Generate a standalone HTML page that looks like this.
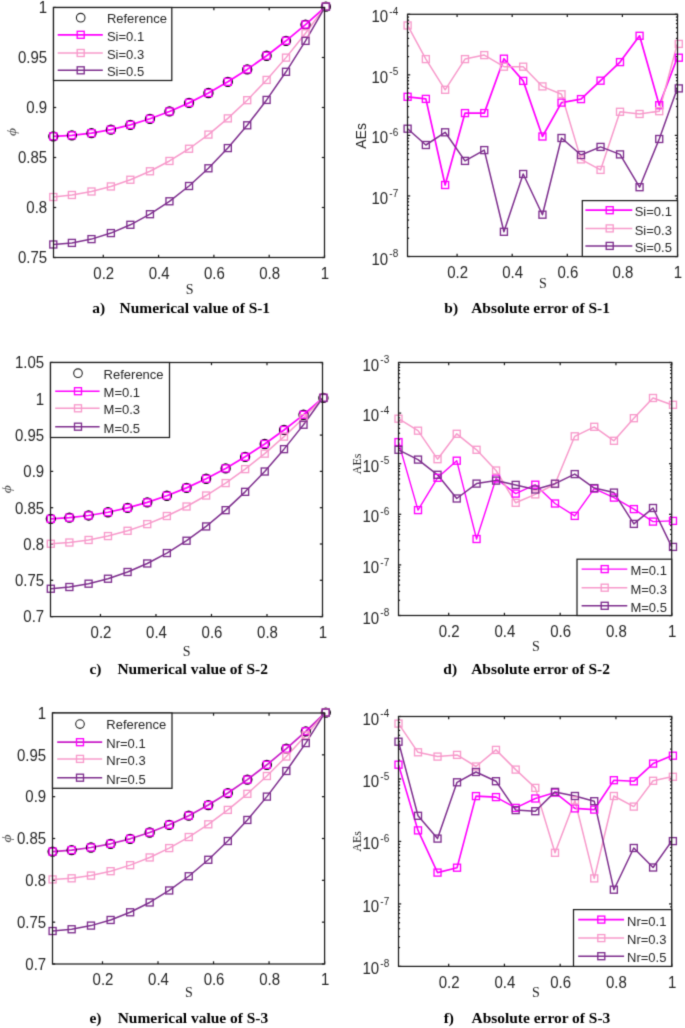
<!DOCTYPE html>
<html><head><meta charset="utf-8"><style>
html,body{margin:0;padding:0;background:#fff;}
body{width:685px;height:1028px;overflow:hidden;font-family:"Liberation Sans",sans-serif;}
svg{display:block;}
#w{width:685px;height:1028px;}

</style></head><body>
<div id="w"><svg width="685" height="1028" viewBox="0 0 685 1028">
<defs><filter id="bl" filterUnits="userSpaceOnUse" x="0" y="0" width="685" height="1028" color-interpolation-filters="sRGB"><feConvolveMatrix order="3" kernelMatrix="0.01917 0.10012 0.01917 0.10012 0.52283 0.10012 0.01917 0.10012 0.01917" edgeMode="duplicate" preserveAlpha="true"/></filter></defs><g filter="url(#bl)">
<rect width="685" height="1028" fill="#fff"/>
<g stroke="#1c1c1c" stroke-width="1.25" fill="none"><line x1="103.28" y1="257.5" x2="103.28" y2="254.8"/><line x1="103.28" y1="7.5" x2="103.28" y2="10.2"/><line x1="158.58" y1="257.5" x2="158.58" y2="254.8"/><line x1="158.58" y1="7.5" x2="158.58" y2="10.2"/><line x1="213.89" y1="257.5" x2="213.89" y2="254.8"/><line x1="213.89" y1="7.5" x2="213.89" y2="10.2"/><line x1="269.19" y1="257.5" x2="269.19" y2="254.8"/><line x1="269.19" y1="7.5" x2="269.19" y2="10.2"/><line x1="324.50" y1="257.5" x2="324.50" y2="254.8"/><line x1="324.50" y1="7.5" x2="324.50" y2="10.2"/><line x1="53.5" y1="257.50" x2="56.2" y2="257.50"/><line x1="324.5" y1="257.50" x2="321.8" y2="257.50"/><line x1="53.5" y1="207.50" x2="56.2" y2="207.50"/><line x1="324.5" y1="207.50" x2="321.8" y2="207.50"/><line x1="53.5" y1="157.50" x2="56.2" y2="157.50"/><line x1="324.5" y1="157.50" x2="321.8" y2="157.50"/><line x1="53.5" y1="107.50" x2="56.2" y2="107.50"/><line x1="324.5" y1="107.50" x2="321.8" y2="107.50"/><line x1="53.5" y1="57.50" x2="56.2" y2="57.50"/><line x1="324.5" y1="57.50" x2="321.8" y2="57.50"/><line x1="53.5" y1="7.50" x2="56.2" y2="7.50"/><line x1="324.5" y1="7.50" x2="321.8" y2="7.50"/></g>
<g font-family="Liberation Sans" font-size="15" fill="#262626"><text transform="translate(47.20,263.30) scale(1,1.05)" text-anchor="end">0.75</text><text transform="translate(47.20,213.30) scale(1,1.05)" text-anchor="end">0.8</text><text transform="translate(47.20,163.30) scale(1,1.05)" text-anchor="end">0.85</text><text transform="translate(47.20,113.30) scale(1,1.05)" text-anchor="end">0.9</text><text transform="translate(47.20,63.30) scale(1,1.05)" text-anchor="end">0.95</text><text transform="translate(47.20,13.30) scale(1,1.05)" text-anchor="end">1</text><text transform="translate(103.78,278.80) scale(1,1.05)" text-anchor="middle">0.2</text><text transform="translate(159.08,278.80) scale(1,1.05)" text-anchor="middle">0.4</text><text transform="translate(214.39,278.80) scale(1,1.05)" text-anchor="middle">0.6</text><text transform="translate(269.69,278.80) scale(1,1.05)" text-anchor="middle">0.8</text><text transform="translate(325.00,278.80) scale(1,1.05)" text-anchor="middle">1</text></g>
<polyline points="53.30,136.32 71.89,135.37 91.49,133.15 110.88,129.65 130.37,124.86 149.96,118.81 169.46,111.47 189.05,102.87 208.44,92.99 227.84,81.84 247.23,69.42 266.62,55.74 286.01,40.78 305.51,24.56 324.80,7.30" fill="none" stroke="#FF00FF" stroke-width="1.7" stroke-linejoin="round"/>
<polyline points="53.30,197.02 71.89,194.98 91.49,191.50 110.88,186.45 130.37,179.75 149.96,171.28 169.46,160.97 189.05,148.75 208.44,134.58 227.84,118.39 247.23,100.18 266.62,79.93 286.01,57.63 305.51,33.31 324.80,7.30" fill="none" stroke="#F79ACB" stroke-width="1.5" stroke-linejoin="round"/>
<polyline points="53.30,244.48 71.89,242.91 91.49,239.11 110.88,233.08 130.37,224.79 149.96,214.20 169.46,201.29 189.05,186.00 208.44,168.29 227.84,148.08 247.23,125.31 266.62,99.92 286.01,71.80 305.51,40.88 324.80,7.30" fill="none" stroke="#7E2F8E" stroke-width="1.5" stroke-linejoin="round"/>
<g fill="none" stroke="#000" stroke-width="1.5"><circle cx="53.30" cy="136.32" r="4.4"/><circle cx="71.89" cy="135.37" r="4.4"/><circle cx="91.49" cy="133.15" r="4.4"/><circle cx="110.88" cy="129.65" r="4.4"/><circle cx="130.37" cy="124.86" r="4.4"/><circle cx="149.96" cy="118.81" r="4.4"/><circle cx="169.46" cy="111.47" r="4.4"/><circle cx="189.05" cy="102.87" r="4.4"/><circle cx="208.44" cy="92.99" r="4.4"/><circle cx="227.84" cy="81.84" r="4.4"/><circle cx="247.23" cy="69.42" r="4.4"/><circle cx="266.62" cy="55.74" r="4.4"/><circle cx="286.01" cy="40.78" r="4.4"/><circle cx="305.51" cy="24.56" r="4.4"/><circle cx="325.90" cy="6.70" r="4.4"/></g>
<g fill="none" stroke="#FF00FF" stroke-width="1.35"><rect x="49.80" y="132.82" width="7" height="7"/><rect x="68.39" y="131.87" width="7" height="7"/><rect x="87.99" y="129.65" width="7" height="7"/><rect x="107.38" y="126.15" width="7" height="7"/><rect x="126.87" y="121.36" width="7" height="7"/><rect x="146.46" y="115.31" width="7" height="7"/><rect x="165.96" y="107.97" width="7" height="7"/><rect x="185.55" y="99.37" width="7" height="7"/><rect x="204.94" y="89.49" width="7" height="7"/><rect x="224.34" y="78.34" width="7" height="7"/><rect x="243.73" y="65.92" width="7" height="7"/><rect x="263.12" y="52.24" width="7" height="7"/><rect x="282.51" y="37.28" width="7" height="7"/><rect x="302.01" y="21.06" width="7" height="7"/><rect x="322.40" y="3.20" width="7" height="7"/></g>
<g fill="none" stroke="#F79ACB" stroke-width="1.35"><rect x="49.80" y="193.52" width="7" height="7"/><rect x="68.39" y="191.48" width="7" height="7"/><rect x="87.99" y="188.00" width="7" height="7"/><rect x="107.38" y="182.95" width="7" height="7"/><rect x="126.87" y="176.25" width="7" height="7"/><rect x="146.46" y="167.78" width="7" height="7"/><rect x="165.96" y="157.47" width="7" height="7"/><rect x="185.55" y="145.25" width="7" height="7"/><rect x="204.94" y="131.08" width="7" height="7"/><rect x="224.34" y="114.89" width="7" height="7"/><rect x="243.73" y="96.68" width="7" height="7"/><rect x="263.12" y="76.43" width="7" height="7"/><rect x="282.51" y="54.13" width="7" height="7"/><rect x="302.01" y="29.81" width="7" height="7"/><rect x="322.40" y="3.20" width="7" height="7"/></g>
<g fill="none" stroke="#7E2F8E" stroke-width="1.35"><rect x="49.80" y="240.98" width="7" height="7"/><rect x="68.39" y="239.41" width="7" height="7"/><rect x="87.99" y="235.61" width="7" height="7"/><rect x="107.38" y="229.58" width="7" height="7"/><rect x="126.87" y="221.29" width="7" height="7"/><rect x="146.46" y="210.70" width="7" height="7"/><rect x="165.96" y="197.79" width="7" height="7"/><rect x="185.55" y="182.50" width="7" height="7"/><rect x="204.94" y="164.79" width="7" height="7"/><rect x="224.34" y="144.58" width="7" height="7"/><rect x="243.73" y="121.81" width="7" height="7"/><rect x="263.12" y="96.42" width="7" height="7"/><rect x="282.51" y="68.30" width="7" height="7"/><rect x="302.01" y="37.38" width="7" height="7"/><rect x="322.40" y="3.20" width="7" height="7"/></g>
<rect x="53.5" y="7.5" width="271.00" height="250.00" fill="none" stroke="#1c1c1c" stroke-width="1.25"/>
<rect x="53.5" y="7.5" width="118.30" height="73.00" fill="#fff" stroke="#1c1c1c" stroke-width="1.25"/>
<circle cx="80.7" cy="17.7" r="4.3" fill="none" stroke="#222" stroke-width="1.1"/>
<text x="106.90" y="23.08" font-family="Liberation Sans" font-size="13" fill="#262626">Reference</text>
<line x1="57.7" y1="34.8" x2="102.8" y2="34.8" stroke="#FF00FF" stroke-width="1.75"/>
<rect x="77.2" y="31.299999999999997" width="7" height="7" fill="none" stroke="#FF00FF" stroke-width="1.35"/>
<text x="106.90" y="40.98" font-family="Liberation Sans" font-size="13" fill="#262626">Si=0.1</text>
<line x1="57.7" y1="53.0" x2="102.8" y2="53.0" stroke="#F79ACB" stroke-width="1.5"/>
<rect x="77.2" y="49.5" width="7" height="7" fill="none" stroke="#F79ACB" stroke-width="1.35"/>
<text x="106.90" y="59.18" font-family="Liberation Sans" font-size="13" fill="#262626">Si=0.3</text>
<line x1="57.7" y1="70.3" x2="102.8" y2="70.3" stroke="#7E2F8E" stroke-width="1.5"/>
<rect x="77.2" y="66.8" width="7" height="7" fill="none" stroke="#7E2F8E" stroke-width="1.35"/>
<text x="106.90" y="76.48" font-family="Liberation Sans" font-size="13" fill="#262626">Si=0.5</text>
<g stroke="#1c1c1c" stroke-width="1.25" fill="none"><line x1="100.46" y1="616.6" x2="100.46" y2="613.9"/><line x1="100.46" y1="362.5" x2="100.46" y2="365.2"/><line x1="155.97" y1="616.6" x2="155.97" y2="613.9"/><line x1="155.97" y1="362.5" x2="155.97" y2="365.2"/><line x1="211.48" y1="616.6" x2="211.48" y2="613.9"/><line x1="211.48" y1="362.5" x2="211.48" y2="365.2"/><line x1="266.99" y1="616.6" x2="266.99" y2="613.9"/><line x1="266.99" y1="362.5" x2="266.99" y2="365.2"/><line x1="322.50" y1="616.6" x2="322.50" y2="613.9"/><line x1="322.50" y1="362.5" x2="322.50" y2="365.2"/><line x1="50.5" y1="616.60" x2="53.2" y2="616.60"/><line x1="322.5" y1="616.60" x2="319.8" y2="616.60"/><line x1="50.5" y1="580.30" x2="53.2" y2="580.30"/><line x1="322.5" y1="580.30" x2="319.8" y2="580.30"/><line x1="50.5" y1="544.00" x2="53.2" y2="544.00"/><line x1="322.5" y1="544.00" x2="319.8" y2="544.00"/><line x1="50.5" y1="507.70" x2="53.2" y2="507.70"/><line x1="322.5" y1="507.70" x2="319.8" y2="507.70"/><line x1="50.5" y1="471.40" x2="53.2" y2="471.40"/><line x1="322.5" y1="471.40" x2="319.8" y2="471.40"/><line x1="50.5" y1="435.10" x2="53.2" y2="435.10"/><line x1="322.5" y1="435.10" x2="319.8" y2="435.10"/><line x1="50.5" y1="398.80" x2="53.2" y2="398.80"/><line x1="322.5" y1="398.80" x2="319.8" y2="398.80"/><line x1="50.5" y1="362.50" x2="53.2" y2="362.50"/><line x1="322.5" y1="362.50" x2="319.8" y2="362.50"/></g>
<g font-family="Liberation Sans" font-size="15" fill="#262626"><text transform="translate(44.20,622.40) scale(1,1.05)" text-anchor="end">0.7</text><text transform="translate(44.20,586.10) scale(1,1.05)" text-anchor="end">0.75</text><text transform="translate(44.20,549.80) scale(1,1.05)" text-anchor="end">0.8</text><text transform="translate(44.20,513.50) scale(1,1.05)" text-anchor="end">0.85</text><text transform="translate(44.20,477.20) scale(1,1.05)" text-anchor="end">0.9</text><text transform="translate(44.20,440.90) scale(1,1.05)" text-anchor="end">0.95</text><text transform="translate(44.20,404.60) scale(1,1.05)" text-anchor="end">1</text><text transform="translate(44.20,368.30) scale(1,1.05)" text-anchor="end">1.05</text><text transform="translate(100.96,637.90) scale(1,1.05)" text-anchor="middle">0.2</text><text transform="translate(156.47,637.90) scale(1,1.05)" text-anchor="middle">0.4</text><text transform="translate(211.98,637.90) scale(1,1.05)" text-anchor="middle">0.6</text><text transform="translate(267.49,637.90) scale(1,1.05)" text-anchor="middle">0.8</text><text transform="translate(323.00,637.90) scale(1,1.05)" text-anchor="middle">1</text></g>
<polyline points="50.80,518.87 69.39,517.67 88.59,515.48 107.98,512.25 127.57,507.91 147.26,502.42 166.86,495.74 186.55,487.86 206.14,478.75 225.64,468.40 245.13,456.82 264.72,444.00 284.01,429.97 303.51,414.76 322.30,398.50" fill="none" stroke="#FF00FF" stroke-width="1.7" stroke-linejoin="round"/>
<polyline points="50.80,543.75 69.39,542.52 88.59,539.97 107.98,536.07 127.57,530.79 147.26,524.11 166.86,516.02 186.55,506.50 206.14,495.52 225.64,483.07 245.13,469.12 264.72,453.65 284.01,436.65 303.51,418.10 322.30,398.50" fill="none" stroke="#F79ACB" stroke-width="1.5" stroke-linejoin="round"/>
<polyline points="50.80,588.75 69.39,587.02 88.59,583.70 107.98,578.73 127.57,572.00 147.26,563.47 166.86,553.06 186.55,540.73 206.14,526.44 225.64,510.15 245.13,491.85 264.72,471.51 284.01,449.14 303.51,424.74 322.30,398.50" fill="none" stroke="#7E2F8E" stroke-width="1.5" stroke-linejoin="round"/>
<g fill="none" stroke="#000" stroke-width="1.5"><circle cx="50.80" cy="518.87" r="4.4"/><circle cx="69.39" cy="517.67" r="4.4"/><circle cx="88.59" cy="515.48" r="4.4"/><circle cx="107.98" cy="512.25" r="4.4"/><circle cx="127.57" cy="507.91" r="4.4"/><circle cx="147.26" cy="502.42" r="4.4"/><circle cx="166.86" cy="495.74" r="4.4"/><circle cx="186.55" cy="487.86" r="4.4"/><circle cx="206.14" cy="478.75" r="4.4"/><circle cx="225.64" cy="468.40" r="4.4"/><circle cx="245.13" cy="456.82" r="4.4"/><circle cx="264.72" cy="444.00" r="4.4"/><circle cx="284.01" cy="429.97" r="4.4"/><circle cx="303.51" cy="414.76" r="4.4"/><circle cx="323.40" cy="397.90" r="4.4"/></g>
<g fill="none" stroke="#FF00FF" stroke-width="1.35"><rect x="47.30" y="515.37" width="7" height="7"/><rect x="65.89" y="514.17" width="7" height="7"/><rect x="85.09" y="511.98" width="7" height="7"/><rect x="104.48" y="508.75" width="7" height="7"/><rect x="124.07" y="504.41" width="7" height="7"/><rect x="143.76" y="498.92" width="7" height="7"/><rect x="163.36" y="492.24" width="7" height="7"/><rect x="183.05" y="484.36" width="7" height="7"/><rect x="202.64" y="475.25" width="7" height="7"/><rect x="222.14" y="464.90" width="7" height="7"/><rect x="241.63" y="453.32" width="7" height="7"/><rect x="261.22" y="440.50" width="7" height="7"/><rect x="280.51" y="426.47" width="7" height="7"/><rect x="300.01" y="411.26" width="7" height="7"/><rect x="319.90" y="394.40" width="7" height="7"/></g>
<g fill="none" stroke="#F79ACB" stroke-width="1.35"><rect x="47.30" y="540.25" width="7" height="7"/><rect x="65.89" y="539.02" width="7" height="7"/><rect x="85.09" y="536.47" width="7" height="7"/><rect x="104.48" y="532.57" width="7" height="7"/><rect x="124.07" y="527.29" width="7" height="7"/><rect x="143.76" y="520.61" width="7" height="7"/><rect x="163.36" y="512.52" width="7" height="7"/><rect x="183.05" y="503.00" width="7" height="7"/><rect x="202.64" y="492.02" width="7" height="7"/><rect x="222.14" y="479.57" width="7" height="7"/><rect x="241.63" y="465.62" width="7" height="7"/><rect x="261.22" y="450.15" width="7" height="7"/><rect x="280.51" y="433.15" width="7" height="7"/><rect x="300.01" y="414.60" width="7" height="7"/><rect x="319.90" y="394.40" width="7" height="7"/></g>
<g fill="none" stroke="#7E2F8E" stroke-width="1.35"><rect x="47.30" y="585.25" width="7" height="7"/><rect x="65.89" y="583.52" width="7" height="7"/><rect x="85.09" y="580.20" width="7" height="7"/><rect x="104.48" y="575.23" width="7" height="7"/><rect x="124.07" y="568.50" width="7" height="7"/><rect x="143.76" y="559.97" width="7" height="7"/><rect x="163.36" y="549.56" width="7" height="7"/><rect x="183.05" y="537.23" width="7" height="7"/><rect x="202.64" y="522.94" width="7" height="7"/><rect x="222.14" y="506.65" width="7" height="7"/><rect x="241.63" y="488.35" width="7" height="7"/><rect x="261.22" y="468.01" width="7" height="7"/><rect x="280.51" y="445.64" width="7" height="7"/><rect x="300.01" y="421.24" width="7" height="7"/><rect x="319.90" y="394.40" width="7" height="7"/></g>
<rect x="50.5" y="362.5" width="272.00" height="254.10" fill="none" stroke="#1c1c1c" stroke-width="1.25"/>
<rect x="50.5" y="362.5" width="119.00" height="75.00" fill="#fff" stroke="#1c1c1c" stroke-width="1.25"/>
<circle cx="78.0" cy="373.2" r="4.3" fill="none" stroke="#222" stroke-width="1.1"/>
<text x="103.60" y="378.58" font-family="Liberation Sans" font-size="13" fill="#262626">Reference</text>
<line x1="55.2" y1="391.2" x2="99.6" y2="391.2" stroke="#FF00FF" stroke-width="1.45"/>
<rect x="74.5" y="387.7" width="7" height="7" fill="none" stroke="#FF00FF" stroke-width="1.35"/>
<text x="103.60" y="397.38" font-family="Liberation Sans" font-size="13" fill="#262626">M=0.1</text>
<line x1="55.2" y1="408.3" x2="99.6" y2="408.3" stroke="#F79ACB" stroke-width="1.5"/>
<rect x="74.5" y="404.8" width="7" height="7" fill="none" stroke="#F79ACB" stroke-width="1.35"/>
<text x="103.60" y="414.48" font-family="Liberation Sans" font-size="13" fill="#262626">M=0.3</text>
<line x1="55.2" y1="426.7" x2="99.6" y2="426.7" stroke="#7E2F8E" stroke-width="1.5"/>
<rect x="74.5" y="423.2" width="7" height="7" fill="none" stroke="#7E2F8E" stroke-width="1.35"/>
<text x="103.60" y="432.88" font-family="Liberation Sans" font-size="13" fill="#262626">M=0.5</text>
<g stroke="#1c1c1c" stroke-width="1.25" fill="none"><line x1="102.48" y1="964.0" x2="102.48" y2="961.3"/><line x1="102.48" y1="713.0" x2="102.48" y2="715.7"/><line x1="158.01" y1="964.0" x2="158.01" y2="961.3"/><line x1="158.01" y1="713.0" x2="158.01" y2="715.7"/><line x1="213.54" y1="964.0" x2="213.54" y2="961.3"/><line x1="213.54" y1="713.0" x2="213.54" y2="715.7"/><line x1="269.07" y1="964.0" x2="269.07" y2="961.3"/><line x1="269.07" y1="713.0" x2="269.07" y2="715.7"/><line x1="324.60" y1="964.0" x2="324.60" y2="961.3"/><line x1="324.60" y1="713.0" x2="324.60" y2="715.7"/><line x1="52.5" y1="964.00" x2="55.2" y2="964.00"/><line x1="324.6" y1="964.00" x2="321.90000000000003" y2="964.00"/><line x1="52.5" y1="922.17" x2="55.2" y2="922.17"/><line x1="324.6" y1="922.17" x2="321.90000000000003" y2="922.17"/><line x1="52.5" y1="880.33" x2="55.2" y2="880.33"/><line x1="324.6" y1="880.33" x2="321.90000000000003" y2="880.33"/><line x1="52.5" y1="838.50" x2="55.2" y2="838.50"/><line x1="324.6" y1="838.50" x2="321.90000000000003" y2="838.50"/><line x1="52.5" y1="796.67" x2="55.2" y2="796.67"/><line x1="324.6" y1="796.67" x2="321.90000000000003" y2="796.67"/><line x1="52.5" y1="754.83" x2="55.2" y2="754.83"/><line x1="324.6" y1="754.83" x2="321.90000000000003" y2="754.83"/><line x1="52.5" y1="713.00" x2="55.2" y2="713.00"/><line x1="324.6" y1="713.00" x2="321.90000000000003" y2="713.00"/></g>
<g font-family="Liberation Sans" font-size="15" fill="#262626"><text transform="translate(46.20,969.80) scale(1,1.05)" text-anchor="end">0.7</text><text transform="translate(46.20,927.97) scale(1,1.05)" text-anchor="end">0.75</text><text transform="translate(46.20,886.13) scale(1,1.05)" text-anchor="end">0.8</text><text transform="translate(46.20,844.30) scale(1,1.05)" text-anchor="end">0.85</text><text transform="translate(46.20,802.47) scale(1,1.05)" text-anchor="end">0.9</text><text transform="translate(46.20,760.63) scale(1,1.05)" text-anchor="end">0.95</text><text transform="translate(46.20,718.80) scale(1,1.05)" text-anchor="end">1</text><text transform="translate(102.98,985.30) scale(1,1.05)" text-anchor="middle">0.2</text><text transform="translate(158.51,985.30) scale(1,1.05)" text-anchor="middle">0.4</text><text transform="translate(214.04,985.30) scale(1,1.05)" text-anchor="middle">0.6</text><text transform="translate(269.57,985.30) scale(1,1.05)" text-anchor="middle">0.8</text><text transform="translate(325.10,985.30) scale(1,1.05)" text-anchor="middle">1</text></g>
<polyline points="52.60,851.62 71.64,850.08 90.97,847.51 110.61,843.79 130.14,838.81 149.68,832.50 169.21,824.79 188.75,815.66 208.29,805.08 227.82,793.06 247.36,779.62 266.89,764.80 286.33,748.68 305.76,731.33 324.70,713.20" fill="none" stroke="#C81EC8" stroke-width="1.7" stroke-linejoin="round"/>
<polyline points="52.60,879.43 71.64,878.31 90.97,875.57 110.61,871.19 130.14,865.15 149.68,857.45 169.21,848.08 188.75,837.03 208.29,824.31 227.82,809.90 247.36,793.80 266.89,776.01 286.33,756.54 305.76,735.39 324.70,713.20" fill="none" stroke="#F79ACB" stroke-width="1.5" stroke-linejoin="round"/>
<polyline points="52.60,931.02 71.64,929.26 90.97,925.60 110.61,919.97 130.14,912.28 149.68,902.47 169.21,890.47 188.75,876.25 208.29,859.78 227.82,841.02 247.36,819.96 266.89,796.61 286.33,770.98 305.76,743.08 324.70,713.20" fill="none" stroke="#7E2F8E" stroke-width="1.5" stroke-linejoin="round"/>
<g fill="none" stroke="#000" stroke-width="1.5"><circle cx="52.60" cy="851.62" r="4.4"/><circle cx="71.64" cy="850.08" r="4.4"/><circle cx="90.97" cy="847.51" r="4.4"/><circle cx="110.61" cy="843.79" r="4.4"/><circle cx="130.14" cy="838.81" r="4.4"/><circle cx="149.68" cy="832.50" r="4.4"/><circle cx="169.21" cy="824.79" r="4.4"/><circle cx="188.75" cy="815.66" r="4.4"/><circle cx="208.29" cy="805.08" r="4.4"/><circle cx="227.82" cy="793.06" r="4.4"/><circle cx="247.36" cy="779.62" r="4.4"/><circle cx="266.89" cy="764.80" r="4.4"/><circle cx="286.33" cy="748.68" r="4.4"/><circle cx="305.76" cy="731.33" r="4.4"/><circle cx="325.80" cy="712.60" r="4.4"/></g>
<g fill="none" stroke="#FF00FF" stroke-width="1.35"><rect x="49.10" y="848.12" width="7" height="7"/><rect x="68.14" y="846.58" width="7" height="7"/><rect x="87.47" y="844.01" width="7" height="7"/><rect x="107.11" y="840.29" width="7" height="7"/><rect x="126.64" y="835.31" width="7" height="7"/><rect x="146.18" y="829.00" width="7" height="7"/><rect x="165.71" y="821.29" width="7" height="7"/><rect x="185.25" y="812.16" width="7" height="7"/><rect x="204.79" y="801.58" width="7" height="7"/><rect x="224.32" y="789.56" width="7" height="7"/><rect x="243.86" y="776.12" width="7" height="7"/><rect x="263.39" y="761.30" width="7" height="7"/><rect x="282.83" y="745.18" width="7" height="7"/><rect x="302.26" y="727.83" width="7" height="7"/><rect x="322.30" y="709.10" width="7" height="7"/></g>
<g fill="none" stroke="#F79ACB" stroke-width="1.35"><rect x="49.10" y="875.93" width="7" height="7"/><rect x="68.14" y="874.81" width="7" height="7"/><rect x="87.47" y="872.07" width="7" height="7"/><rect x="107.11" y="867.69" width="7" height="7"/><rect x="126.64" y="861.65" width="7" height="7"/><rect x="146.18" y="853.95" width="7" height="7"/><rect x="165.71" y="844.58" width="7" height="7"/><rect x="185.25" y="833.53" width="7" height="7"/><rect x="204.79" y="820.81" width="7" height="7"/><rect x="224.32" y="806.40" width="7" height="7"/><rect x="243.86" y="790.30" width="7" height="7"/><rect x="263.39" y="772.51" width="7" height="7"/><rect x="282.83" y="753.04" width="7" height="7"/><rect x="302.26" y="731.89" width="7" height="7"/><rect x="322.30" y="709.10" width="7" height="7"/></g>
<g fill="none" stroke="#7E2F8E" stroke-width="1.35"><rect x="49.10" y="927.52" width="7" height="7"/><rect x="68.14" y="925.76" width="7" height="7"/><rect x="87.47" y="922.10" width="7" height="7"/><rect x="107.11" y="916.47" width="7" height="7"/><rect x="126.64" y="908.78" width="7" height="7"/><rect x="146.18" y="898.97" width="7" height="7"/><rect x="165.71" y="886.97" width="7" height="7"/><rect x="185.25" y="872.75" width="7" height="7"/><rect x="204.79" y="856.28" width="7" height="7"/><rect x="224.32" y="837.52" width="7" height="7"/><rect x="243.86" y="816.46" width="7" height="7"/><rect x="263.39" y="793.11" width="7" height="7"/><rect x="282.83" y="767.48" width="7" height="7"/><rect x="302.26" y="739.58" width="7" height="7"/><rect x="322.30" y="709.10" width="7" height="7"/></g>
<rect x="52.5" y="713.0" width="272.10" height="251.00" fill="none" stroke="#1c1c1c" stroke-width="1.25"/>
<rect x="52.5" y="713.0" width="119.50" height="75.30" fill="#fff" stroke="#1c1c1c" stroke-width="1.25"/>
<circle cx="80.0" cy="724.1" r="4.3" fill="none" stroke="#222" stroke-width="1.1"/>
<text x="106.30" y="729.48" font-family="Liberation Sans" font-size="13" fill="#262626">Reference</text>
<line x1="57.2" y1="742.2" x2="102.2" y2="742.2" stroke="#C81EC8" stroke-width="1.75"/>
<rect x="76.5" y="738.7" width="7" height="7" fill="none" stroke="#FF00FF" stroke-width="1.35"/>
<text x="106.30" y="748.38" font-family="Liberation Sans" font-size="13" fill="#262626">Nr=0.1</text>
<line x1="57.2" y1="758.9" x2="102.2" y2="758.9" stroke="#F79ACB" stroke-width="1.5"/>
<rect x="76.5" y="755.4" width="7" height="7" fill="none" stroke="#F79ACB" stroke-width="1.35"/>
<text x="106.30" y="765.08" font-family="Liberation Sans" font-size="13" fill="#262626">Nr=0.3</text>
<line x1="57.2" y1="777.7" x2="102.2" y2="777.7" stroke="#7E2F8E" stroke-width="1.5"/>
<rect x="76.5" y="774.2" width="7" height="7" fill="none" stroke="#7E2F8E" stroke-width="1.35"/>
<text x="106.30" y="783.88" font-family="Liberation Sans" font-size="13" fill="#262626">Nr=0.5</text>
<g stroke="#1c1c1c" stroke-width="1.25" fill="none"><line x1="457.09" y1="256.5" x2="457.09" y2="253.8"/><line x1="457.09" y1="14.3" x2="457.09" y2="17.0"/><line x1="512.19" y1="256.5" x2="512.19" y2="253.8"/><line x1="512.19" y1="14.3" x2="512.19" y2="17.0"/><line x1="567.30" y1="256.5" x2="567.30" y2="253.8"/><line x1="567.30" y1="14.3" x2="567.30" y2="17.0"/><line x1="622.40" y1="256.5" x2="622.40" y2="253.8"/><line x1="622.40" y1="14.3" x2="622.40" y2="17.0"/><line x1="677.50" y1="256.5" x2="677.50" y2="253.8"/><line x1="677.50" y1="14.3" x2="677.50" y2="17.0"/><line x1="407.5" y1="256.50" x2="410.2" y2="256.50"/><line x1="677.5" y1="256.50" x2="674.8" y2="256.50"/><line x1="407.5" y1="238.27" x2="409.1" y2="238.27"/><line x1="677.5" y1="238.27" x2="675.9" y2="238.27"/><line x1="407.5" y1="227.61" x2="409.1" y2="227.61"/><line x1="677.5" y1="227.61" x2="675.9" y2="227.61"/><line x1="407.5" y1="220.05" x2="409.1" y2="220.05"/><line x1="677.5" y1="220.05" x2="675.9" y2="220.05"/><line x1="407.5" y1="214.18" x2="409.1" y2="214.18"/><line x1="677.5" y1="214.18" x2="675.9" y2="214.18"/><line x1="407.5" y1="209.38" x2="409.1" y2="209.38"/><line x1="677.5" y1="209.38" x2="675.9" y2="209.38"/><line x1="407.5" y1="205.33" x2="409.1" y2="205.33"/><line x1="677.5" y1="205.33" x2="675.9" y2="205.33"/><line x1="407.5" y1="201.82" x2="409.1" y2="201.82"/><line x1="677.5" y1="201.82" x2="675.9" y2="201.82"/><line x1="407.5" y1="198.72" x2="409.1" y2="198.72"/><line x1="677.5" y1="198.72" x2="675.9" y2="198.72"/><line x1="407.5" y1="195.95" x2="410.2" y2="195.95"/><line x1="677.5" y1="195.95" x2="674.8" y2="195.95"/><line x1="407.5" y1="177.72" x2="409.1" y2="177.72"/><line x1="677.5" y1="177.72" x2="675.9" y2="177.72"/><line x1="407.5" y1="167.06" x2="409.1" y2="167.06"/><line x1="677.5" y1="167.06" x2="675.9" y2="167.06"/><line x1="407.5" y1="159.50" x2="409.1" y2="159.50"/><line x1="677.5" y1="159.50" x2="675.9" y2="159.50"/><line x1="407.5" y1="153.63" x2="409.1" y2="153.63"/><line x1="677.5" y1="153.63" x2="675.9" y2="153.63"/><line x1="407.5" y1="148.83" x2="409.1" y2="148.83"/><line x1="677.5" y1="148.83" x2="675.9" y2="148.83"/><line x1="407.5" y1="144.78" x2="409.1" y2="144.78"/><line x1="677.5" y1="144.78" x2="675.9" y2="144.78"/><line x1="407.5" y1="141.27" x2="409.1" y2="141.27"/><line x1="677.5" y1="141.27" x2="675.9" y2="141.27"/><line x1="407.5" y1="138.17" x2="409.1" y2="138.17"/><line x1="677.5" y1="138.17" x2="675.9" y2="138.17"/><line x1="407.5" y1="135.40" x2="410.2" y2="135.40"/><line x1="677.5" y1="135.40" x2="674.8" y2="135.40"/><line x1="407.5" y1="117.17" x2="409.1" y2="117.17"/><line x1="677.5" y1="117.17" x2="675.9" y2="117.17"/><line x1="407.5" y1="106.51" x2="409.1" y2="106.51"/><line x1="677.5" y1="106.51" x2="675.9" y2="106.51"/><line x1="407.5" y1="98.95" x2="409.1" y2="98.95"/><line x1="677.5" y1="98.95" x2="675.9" y2="98.95"/><line x1="407.5" y1="93.08" x2="409.1" y2="93.08"/><line x1="677.5" y1="93.08" x2="675.9" y2="93.08"/><line x1="407.5" y1="88.28" x2="409.1" y2="88.28"/><line x1="677.5" y1="88.28" x2="675.9" y2="88.28"/><line x1="407.5" y1="84.23" x2="409.1" y2="84.23"/><line x1="677.5" y1="84.23" x2="675.9" y2="84.23"/><line x1="407.5" y1="80.72" x2="409.1" y2="80.72"/><line x1="677.5" y1="80.72" x2="675.9" y2="80.72"/><line x1="407.5" y1="77.62" x2="409.1" y2="77.62"/><line x1="677.5" y1="77.62" x2="675.9" y2="77.62"/><line x1="407.5" y1="74.85" x2="410.2" y2="74.85"/><line x1="677.5" y1="74.85" x2="674.8" y2="74.85"/><line x1="407.5" y1="56.62" x2="409.1" y2="56.62"/><line x1="677.5" y1="56.62" x2="675.9" y2="56.62"/><line x1="407.5" y1="45.96" x2="409.1" y2="45.96"/><line x1="677.5" y1="45.96" x2="675.9" y2="45.96"/><line x1="407.5" y1="38.40" x2="409.1" y2="38.40"/><line x1="677.5" y1="38.40" x2="675.9" y2="38.40"/><line x1="407.5" y1="32.53" x2="409.1" y2="32.53"/><line x1="677.5" y1="32.53" x2="675.9" y2="32.53"/><line x1="407.5" y1="27.73" x2="409.1" y2="27.73"/><line x1="677.5" y1="27.73" x2="675.9" y2="27.73"/><line x1="407.5" y1="23.68" x2="409.1" y2="23.68"/><line x1="677.5" y1="23.68" x2="675.9" y2="23.68"/><line x1="407.5" y1="20.17" x2="409.1" y2="20.17"/><line x1="677.5" y1="20.17" x2="675.9" y2="20.17"/><line x1="407.5" y1="17.07" x2="409.1" y2="17.07"/><line x1="677.5" y1="17.07" x2="675.9" y2="17.07"/><line x1="407.5" y1="14.30" x2="410.2" y2="14.30"/><line x1="677.5" y1="14.30" x2="674.8" y2="14.30"/></g>
<g font-family="Liberation Sans" font-size="15" fill="#262626"><text transform="translate(388.20,264.50) scale(1,1.05)" text-anchor="end">10</text><text x="389.30" y="257.10" font-size="10">-8</text><text transform="translate(388.20,203.95) scale(1,1.05)" text-anchor="end">10</text><text x="389.30" y="196.55" font-size="10">-7</text><text transform="translate(388.20,143.40) scale(1,1.05)" text-anchor="end">10</text><text x="389.30" y="136.00" font-size="10">-6</text><text transform="translate(388.20,82.85) scale(1,1.05)" text-anchor="end">10</text><text x="389.30" y="75.45" font-size="10">-5</text><text transform="translate(388.20,22.30) scale(1,1.05)" text-anchor="end">10</text><text x="389.30" y="14.90" font-size="10">-4</text><text transform="translate(457.59,277.80) scale(1,1.05)" text-anchor="middle">0.2</text><text transform="translate(512.69,277.80) scale(1,1.05)" text-anchor="middle">0.4</text><text transform="translate(567.80,277.80) scale(1,1.05)" text-anchor="middle">0.6</text><text transform="translate(622.90,277.80) scale(1,1.05)" text-anchor="middle">0.8</text><text transform="translate(678.00,277.80) scale(1,1.05)" text-anchor="middle">1</text></g>
<polyline points="407.60,96.80 425.86,98.90 445.13,185.00 464.99,113.10 484.26,113.10 503.92,58.70 523.19,80.90 542.45,136.50 561.51,102.60 580.98,99.10 600.54,80.70 620.01,62.10 639.57,35.80 659.24,105.20 677.30,57.70" fill="none" stroke="#FF00FF" stroke-width="1.7" stroke-linejoin="round"/>
<polyline points="407.60,25.45 425.86,59.10 445.13,89.80 464.99,59.10 484.26,55.10 503.92,66.70 523.19,66.70 542.45,86.40 561.51,94.30 580.98,159.40 600.54,169.90 620.01,111.80 639.57,114.00 659.24,111.20 677.30,43.90" fill="none" stroke="#F79ACB" stroke-width="1.5" stroke-linejoin="round"/>
<polyline points="407.60,128.70 425.86,145.00 445.13,132.30 464.99,160.90 484.26,150.10 503.92,231.80 523.19,174.00 542.45,214.70 561.51,138.00 580.98,155.00 600.54,146.90 620.01,154.40 639.57,187.20 659.24,139.00 677.30,88.40" fill="none" stroke="#7E2F8E" stroke-width="1.5" stroke-linejoin="round"/>
<g fill="none" stroke="#FF00FF" stroke-width="1.35"><rect x="404.10" y="93.30" width="7" height="7"/><rect x="422.36" y="95.40" width="7" height="7"/><rect x="441.63" y="181.50" width="7" height="7"/><rect x="461.49" y="109.60" width="7" height="7"/><rect x="480.76" y="109.60" width="7" height="7"/><rect x="500.42" y="55.20" width="7" height="7"/><rect x="519.69" y="77.40" width="7" height="7"/><rect x="538.95" y="133.00" width="7" height="7"/><rect x="558.01" y="99.10" width="7" height="7"/><rect x="577.48" y="95.60" width="7" height="7"/><rect x="597.04" y="77.20" width="7" height="7"/><rect x="616.51" y="58.60" width="7" height="7"/><rect x="636.07" y="32.30" width="7" height="7"/><rect x="655.74" y="101.70" width="7" height="7"/><rect x="675.30" y="54.20" width="7" height="7"/></g>
<g fill="none" stroke="#F79ACB" stroke-width="1.35"><rect x="404.10" y="21.95" width="7" height="7"/><rect x="422.36" y="55.60" width="7" height="7"/><rect x="441.63" y="86.30" width="7" height="7"/><rect x="461.49" y="55.60" width="7" height="7"/><rect x="480.76" y="51.60" width="7" height="7"/><rect x="500.42" y="63.20" width="7" height="7"/><rect x="519.69" y="63.20" width="7" height="7"/><rect x="538.95" y="82.90" width="7" height="7"/><rect x="558.01" y="90.80" width="7" height="7"/><rect x="577.48" y="155.90" width="7" height="7"/><rect x="597.04" y="166.40" width="7" height="7"/><rect x="616.51" y="108.30" width="7" height="7"/><rect x="636.07" y="110.50" width="7" height="7"/><rect x="655.74" y="107.70" width="7" height="7"/><rect x="675.30" y="40.40" width="7" height="7"/></g>
<g fill="none" stroke="#7E2F8E" stroke-width="1.35"><rect x="404.10" y="125.20" width="7" height="7"/><rect x="422.36" y="141.50" width="7" height="7"/><rect x="441.63" y="128.80" width="7" height="7"/><rect x="461.49" y="157.40" width="7" height="7"/><rect x="480.76" y="146.60" width="7" height="7"/><rect x="500.42" y="228.30" width="7" height="7"/><rect x="519.69" y="170.50" width="7" height="7"/><rect x="538.95" y="211.20" width="7" height="7"/><rect x="558.01" y="134.50" width="7" height="7"/><rect x="577.48" y="151.50" width="7" height="7"/><rect x="597.04" y="143.40" width="7" height="7"/><rect x="616.51" y="150.90" width="7" height="7"/><rect x="636.07" y="183.70" width="7" height="7"/><rect x="655.74" y="135.50" width="7" height="7"/><rect x="675.30" y="84.90" width="7" height="7"/></g>
<rect x="407.5" y="14.3" width="270.00" height="242.20" fill="none" stroke="#1c1c1c" stroke-width="1.25"/>
<rect x="582.3" y="200.6" width="95.20" height="55.90" fill="#fff" stroke="#1c1c1c" stroke-width="1.25"/>
<line x1="585.4" y1="210.2" x2="632.3" y2="210.2" stroke="#FF00FF" stroke-width="1.75"/>
<rect x="606.2" y="206.7" width="7" height="7" fill="none" stroke="#FF00FF" stroke-width="1.35"/>
<text x="634.70" y="216.38" font-family="Liberation Sans" font-size="13" fill="#262626">Si=0.1</text>
<line x1="585.4" y1="228.4" x2="632.3" y2="228.4" stroke="#F79ACB" stroke-width="1.5"/>
<rect x="606.2" y="224.9" width="7" height="7" fill="none" stroke="#F79ACB" stroke-width="1.35"/>
<text x="634.70" y="234.58" font-family="Liberation Sans" font-size="13" fill="#262626">Si=0.3</text>
<line x1="585.4" y1="245.9" x2="632.3" y2="245.9" stroke="#7E2F8E" stroke-width="1.5"/>
<rect x="606.2" y="242.4" width="7" height="7" fill="none" stroke="#7E2F8E" stroke-width="1.35"/>
<text x="634.70" y="252.08" font-family="Liberation Sans" font-size="13" fill="#262626">Si=0.5</text>
<g stroke="#1c1c1c" stroke-width="1.25" fill="none"><line x1="448.68" y1="615.5" x2="448.68" y2="612.8"/><line x1="448.68" y1="362.5" x2="448.68" y2="365.2"/><line x1="504.43" y1="615.5" x2="504.43" y2="612.8"/><line x1="504.43" y1="362.5" x2="504.43" y2="365.2"/><line x1="560.19" y1="615.5" x2="560.19" y2="612.8"/><line x1="560.19" y1="362.5" x2="560.19" y2="365.2"/><line x1="615.94" y1="615.5" x2="615.94" y2="612.8"/><line x1="615.94" y1="362.5" x2="615.94" y2="365.2"/><line x1="671.70" y1="615.5" x2="671.70" y2="612.8"/><line x1="671.70" y1="362.5" x2="671.70" y2="365.2"/><line x1="398.5" y1="615.50" x2="401.2" y2="615.50"/><line x1="671.7" y1="615.50" x2="669.0" y2="615.50"/><line x1="398.5" y1="600.27" x2="400.1" y2="600.27"/><line x1="671.7" y1="600.27" x2="670.1" y2="600.27"/><line x1="398.5" y1="591.36" x2="400.1" y2="591.36"/><line x1="671.7" y1="591.36" x2="670.1" y2="591.36"/><line x1="398.5" y1="585.04" x2="400.1" y2="585.04"/><line x1="671.7" y1="585.04" x2="670.1" y2="585.04"/><line x1="398.5" y1="580.13" x2="400.1" y2="580.13"/><line x1="671.7" y1="580.13" x2="670.1" y2="580.13"/><line x1="398.5" y1="576.13" x2="400.1" y2="576.13"/><line x1="671.7" y1="576.13" x2="670.1" y2="576.13"/><line x1="398.5" y1="572.74" x2="400.1" y2="572.74"/><line x1="671.7" y1="572.74" x2="670.1" y2="572.74"/><line x1="398.5" y1="569.80" x2="400.1" y2="569.80"/><line x1="671.7" y1="569.80" x2="670.1" y2="569.80"/><line x1="398.5" y1="567.22" x2="400.1" y2="567.22"/><line x1="671.7" y1="567.22" x2="670.1" y2="567.22"/><line x1="398.5" y1="564.90" x2="401.2" y2="564.90"/><line x1="671.7" y1="564.90" x2="669.0" y2="564.90"/><line x1="398.5" y1="549.67" x2="400.1" y2="549.67"/><line x1="671.7" y1="549.67" x2="670.1" y2="549.67"/><line x1="398.5" y1="540.76" x2="400.1" y2="540.76"/><line x1="671.7" y1="540.76" x2="670.1" y2="540.76"/><line x1="398.5" y1="534.44" x2="400.1" y2="534.44"/><line x1="671.7" y1="534.44" x2="670.1" y2="534.44"/><line x1="398.5" y1="529.53" x2="400.1" y2="529.53"/><line x1="671.7" y1="529.53" x2="670.1" y2="529.53"/><line x1="398.5" y1="525.53" x2="400.1" y2="525.53"/><line x1="671.7" y1="525.53" x2="670.1" y2="525.53"/><line x1="398.5" y1="522.14" x2="400.1" y2="522.14"/><line x1="671.7" y1="522.14" x2="670.1" y2="522.14"/><line x1="398.5" y1="519.20" x2="400.1" y2="519.20"/><line x1="671.7" y1="519.20" x2="670.1" y2="519.20"/><line x1="398.5" y1="516.62" x2="400.1" y2="516.62"/><line x1="671.7" y1="516.62" x2="670.1" y2="516.62"/><line x1="398.5" y1="514.30" x2="401.2" y2="514.30"/><line x1="671.7" y1="514.30" x2="669.0" y2="514.30"/><line x1="398.5" y1="499.07" x2="400.1" y2="499.07"/><line x1="671.7" y1="499.07" x2="670.1" y2="499.07"/><line x1="398.5" y1="490.16" x2="400.1" y2="490.16"/><line x1="671.7" y1="490.16" x2="670.1" y2="490.16"/><line x1="398.5" y1="483.84" x2="400.1" y2="483.84"/><line x1="671.7" y1="483.84" x2="670.1" y2="483.84"/><line x1="398.5" y1="478.93" x2="400.1" y2="478.93"/><line x1="671.7" y1="478.93" x2="670.1" y2="478.93"/><line x1="398.5" y1="474.93" x2="400.1" y2="474.93"/><line x1="671.7" y1="474.93" x2="670.1" y2="474.93"/><line x1="398.5" y1="471.54" x2="400.1" y2="471.54"/><line x1="671.7" y1="471.54" x2="670.1" y2="471.54"/><line x1="398.5" y1="468.60" x2="400.1" y2="468.60"/><line x1="671.7" y1="468.60" x2="670.1" y2="468.60"/><line x1="398.5" y1="466.02" x2="400.1" y2="466.02"/><line x1="671.7" y1="466.02" x2="670.1" y2="466.02"/><line x1="398.5" y1="463.70" x2="401.2" y2="463.70"/><line x1="671.7" y1="463.70" x2="669.0" y2="463.70"/><line x1="398.5" y1="448.47" x2="400.1" y2="448.47"/><line x1="671.7" y1="448.47" x2="670.1" y2="448.47"/><line x1="398.5" y1="439.56" x2="400.1" y2="439.56"/><line x1="671.7" y1="439.56" x2="670.1" y2="439.56"/><line x1="398.5" y1="433.24" x2="400.1" y2="433.24"/><line x1="671.7" y1="433.24" x2="670.1" y2="433.24"/><line x1="398.5" y1="428.33" x2="400.1" y2="428.33"/><line x1="671.7" y1="428.33" x2="670.1" y2="428.33"/><line x1="398.5" y1="424.33" x2="400.1" y2="424.33"/><line x1="671.7" y1="424.33" x2="670.1" y2="424.33"/><line x1="398.5" y1="420.94" x2="400.1" y2="420.94"/><line x1="671.7" y1="420.94" x2="670.1" y2="420.94"/><line x1="398.5" y1="418.00" x2="400.1" y2="418.00"/><line x1="671.7" y1="418.00" x2="670.1" y2="418.00"/><line x1="398.5" y1="415.42" x2="400.1" y2="415.42"/><line x1="671.7" y1="415.42" x2="670.1" y2="415.42"/><line x1="398.5" y1="413.10" x2="401.2" y2="413.10"/><line x1="671.7" y1="413.10" x2="669.0" y2="413.10"/><line x1="398.5" y1="397.87" x2="400.1" y2="397.87"/><line x1="671.7" y1="397.87" x2="670.1" y2="397.87"/><line x1="398.5" y1="388.96" x2="400.1" y2="388.96"/><line x1="671.7" y1="388.96" x2="670.1" y2="388.96"/><line x1="398.5" y1="382.64" x2="400.1" y2="382.64"/><line x1="671.7" y1="382.64" x2="670.1" y2="382.64"/><line x1="398.5" y1="377.73" x2="400.1" y2="377.73"/><line x1="671.7" y1="377.73" x2="670.1" y2="377.73"/><line x1="398.5" y1="373.73" x2="400.1" y2="373.73"/><line x1="671.7" y1="373.73" x2="670.1" y2="373.73"/><line x1="398.5" y1="370.34" x2="400.1" y2="370.34"/><line x1="671.7" y1="370.34" x2="670.1" y2="370.34"/><line x1="398.5" y1="367.40" x2="400.1" y2="367.40"/><line x1="671.7" y1="367.40" x2="670.1" y2="367.40"/><line x1="398.5" y1="364.82" x2="400.1" y2="364.82"/><line x1="671.7" y1="364.82" x2="670.1" y2="364.82"/><line x1="398.5" y1="362.50" x2="401.2" y2="362.50"/><line x1="671.7" y1="362.50" x2="669.0" y2="362.50"/></g>
<g font-family="Liberation Sans" font-size="15" fill="#262626"><text transform="translate(379.20,623.50) scale(1,1.05)" text-anchor="end">10</text><text x="380.30" y="616.10" font-size="10">-8</text><text transform="translate(379.20,572.90) scale(1,1.05)" text-anchor="end">10</text><text x="380.30" y="565.50" font-size="10">-7</text><text transform="translate(379.20,522.30) scale(1,1.05)" text-anchor="end">10</text><text x="380.30" y="514.90" font-size="10">-6</text><text transform="translate(379.20,471.70) scale(1,1.05)" text-anchor="end">10</text><text x="380.30" y="464.30" font-size="10">-5</text><text transform="translate(379.20,421.10) scale(1,1.05)" text-anchor="end">10</text><text x="380.30" y="413.70" font-size="10">-4</text><text transform="translate(379.20,370.50) scale(1,1.05)" text-anchor="end">10</text><text x="380.30" y="363.10" font-size="10">-3</text><text transform="translate(449.18,636.80) scale(1,1.05)" text-anchor="middle">0.2</text><text transform="translate(504.93,636.80) scale(1,1.05)" text-anchor="middle">0.4</text><text transform="translate(560.69,636.80) scale(1,1.05)" text-anchor="middle">0.6</text><text transform="translate(616.44,636.80) scale(1,1.05)" text-anchor="middle">0.8</text><text transform="translate(672.20,636.80) scale(1,1.05)" text-anchor="middle">1</text></g>
<polyline points="398.50,442.10 418.01,510.10 437.53,477.80 456.74,460.70 476.56,539.00 496.07,478.50 515.69,493.60 535.30,484.70 555.01,503.50 574.73,515.90 594.24,488.60 613.96,497.60 633.87,509.10 652.99,521.60 671.70,520.90" fill="none" stroke="#FF00FF" stroke-width="1.4" stroke-linejoin="round"/>
<polyline points="398.50,418.70 418.01,430.70 437.53,459.20 456.74,433.80 476.56,449.80 496.07,470.50 515.69,502.80 535.30,494.40 555.01,484.00 574.73,436.30 594.24,426.80 613.96,440.80 633.87,418.20 652.99,398.00 671.70,404.80" fill="none" stroke="#F79ACB" stroke-width="1.5" stroke-linejoin="round"/>
<polyline points="398.50,449.80 418.01,459.60 437.53,474.80 456.74,498.50 476.56,483.60 496.07,480.60 515.69,484.90 535.30,489.50 555.01,483.70 574.73,474.10 594.24,488.10 613.96,492.60 633.87,523.90 652.99,508.00 671.70,546.90" fill="none" stroke="#7E2F8E" stroke-width="1.5" stroke-linejoin="round"/>
<g fill="none" stroke="#FF00FF" stroke-width="1.35"><rect x="395.00" y="438.60" width="7" height="7"/><rect x="414.51" y="506.60" width="7" height="7"/><rect x="434.03" y="474.30" width="7" height="7"/><rect x="453.24" y="457.20" width="7" height="7"/><rect x="473.06" y="535.50" width="7" height="7"/><rect x="492.57" y="475.00" width="7" height="7"/><rect x="512.19" y="490.10" width="7" height="7"/><rect x="531.80" y="481.20" width="7" height="7"/><rect x="551.51" y="500.00" width="7" height="7"/><rect x="571.23" y="512.40" width="7" height="7"/><rect x="590.74" y="485.10" width="7" height="7"/><rect x="610.46" y="494.10" width="7" height="7"/><rect x="630.37" y="505.60" width="7" height="7"/><rect x="649.49" y="518.10" width="7" height="7"/><rect x="669.50" y="517.40" width="7" height="7"/></g>
<g fill="none" stroke="#F79ACB" stroke-width="1.35"><rect x="395.00" y="415.20" width="7" height="7"/><rect x="414.51" y="427.20" width="7" height="7"/><rect x="434.03" y="455.70" width="7" height="7"/><rect x="453.24" y="430.30" width="7" height="7"/><rect x="473.06" y="446.30" width="7" height="7"/><rect x="492.57" y="467.00" width="7" height="7"/><rect x="512.19" y="499.30" width="7" height="7"/><rect x="531.80" y="490.90" width="7" height="7"/><rect x="551.51" y="480.50" width="7" height="7"/><rect x="571.23" y="432.80" width="7" height="7"/><rect x="590.74" y="423.30" width="7" height="7"/><rect x="610.46" y="437.30" width="7" height="7"/><rect x="630.37" y="414.70" width="7" height="7"/><rect x="649.49" y="394.50" width="7" height="7"/><rect x="669.50" y="401.30" width="7" height="7"/></g>
<g fill="none" stroke="#7E2F8E" stroke-width="1.35"><rect x="395.00" y="446.30" width="7" height="7"/><rect x="414.51" y="456.10" width="7" height="7"/><rect x="434.03" y="471.30" width="7" height="7"/><rect x="453.24" y="495.00" width="7" height="7"/><rect x="473.06" y="480.10" width="7" height="7"/><rect x="492.57" y="477.10" width="7" height="7"/><rect x="512.19" y="481.40" width="7" height="7"/><rect x="531.80" y="486.00" width="7" height="7"/><rect x="551.51" y="480.20" width="7" height="7"/><rect x="571.23" y="470.60" width="7" height="7"/><rect x="590.74" y="484.60" width="7" height="7"/><rect x="610.46" y="489.10" width="7" height="7"/><rect x="630.37" y="520.40" width="7" height="7"/><rect x="649.49" y="504.50" width="7" height="7"/><rect x="669.50" y="543.40" width="7" height="7"/></g>
<rect x="398.5" y="362.5" width="273.20" height="253.00" fill="none" stroke="#1c1c1c" stroke-width="1.25"/>
<rect x="577.0" y="559.2" width="94.70" height="56.30" fill="#fff" stroke="#1c1c1c" stroke-width="1.25"/>
<line x1="581.6" y1="569.1" x2="627.3" y2="569.1" stroke="#FF00FF" stroke-width="1.4"/>
<rect x="601.2" y="565.6" width="7" height="7" fill="none" stroke="#FF00FF" stroke-width="1.35"/>
<text x="630.40" y="575.28" font-family="Liberation Sans" font-size="13" fill="#262626">M=0.1</text>
<line x1="581.6" y1="587.7" x2="627.3" y2="587.7" stroke="#F79ACB" stroke-width="1.5"/>
<rect x="601.2" y="584.2" width="7" height="7" fill="none" stroke="#F79ACB" stroke-width="1.35"/>
<text x="630.40" y="593.88" font-family="Liberation Sans" font-size="13" fill="#262626">M=0.3</text>
<line x1="581.6" y1="605.8" x2="627.3" y2="605.8" stroke="#7E2F8E" stroke-width="1.5"/>
<rect x="601.2" y="602.3" width="7" height="7" fill="none" stroke="#7E2F8E" stroke-width="1.35"/>
<text x="630.40" y="611.98" font-family="Liberation Sans" font-size="13" fill="#262626">M=0.5</text>
<g stroke="#1c1c1c" stroke-width="1.25" fill="none"><line x1="448.68" y1="966.4" x2="448.68" y2="963.6999999999999"/><line x1="448.68" y1="716.5" x2="448.68" y2="719.2"/><line x1="504.43" y1="966.4" x2="504.43" y2="963.6999999999999"/><line x1="504.43" y1="716.5" x2="504.43" y2="719.2"/><line x1="560.19" y1="966.4" x2="560.19" y2="963.6999999999999"/><line x1="560.19" y1="716.5" x2="560.19" y2="719.2"/><line x1="615.94" y1="966.4" x2="615.94" y2="963.6999999999999"/><line x1="615.94" y1="716.5" x2="615.94" y2="719.2"/><line x1="671.70" y1="966.4" x2="671.70" y2="963.6999999999999"/><line x1="671.70" y1="716.5" x2="671.70" y2="719.2"/><line x1="398.5" y1="966.40" x2="401.2" y2="966.40"/><line x1="671.7" y1="966.40" x2="669.0" y2="966.40"/><line x1="398.5" y1="947.59" x2="400.1" y2="947.59"/><line x1="671.7" y1="947.59" x2="670.1" y2="947.59"/><line x1="398.5" y1="936.59" x2="400.1" y2="936.59"/><line x1="671.7" y1="936.59" x2="670.1" y2="936.59"/><line x1="398.5" y1="928.79" x2="400.1" y2="928.79"/><line x1="671.7" y1="928.79" x2="670.1" y2="928.79"/><line x1="398.5" y1="922.73" x2="400.1" y2="922.73"/><line x1="671.7" y1="922.73" x2="670.1" y2="922.73"/><line x1="398.5" y1="917.79" x2="400.1" y2="917.79"/><line x1="671.7" y1="917.79" x2="670.1" y2="917.79"/><line x1="398.5" y1="913.60" x2="400.1" y2="913.60"/><line x1="671.7" y1="913.60" x2="670.1" y2="913.60"/><line x1="398.5" y1="909.98" x2="400.1" y2="909.98"/><line x1="671.7" y1="909.98" x2="670.1" y2="909.98"/><line x1="398.5" y1="906.78" x2="400.1" y2="906.78"/><line x1="671.7" y1="906.78" x2="670.1" y2="906.78"/><line x1="398.5" y1="903.92" x2="401.2" y2="903.92"/><line x1="671.7" y1="903.92" x2="669.0" y2="903.92"/><line x1="398.5" y1="885.12" x2="400.1" y2="885.12"/><line x1="671.7" y1="885.12" x2="670.1" y2="885.12"/><line x1="398.5" y1="874.12" x2="400.1" y2="874.12"/><line x1="671.7" y1="874.12" x2="670.1" y2="874.12"/><line x1="398.5" y1="866.31" x2="400.1" y2="866.31"/><line x1="671.7" y1="866.31" x2="670.1" y2="866.31"/><line x1="398.5" y1="860.26" x2="400.1" y2="860.26"/><line x1="671.7" y1="860.26" x2="670.1" y2="860.26"/><line x1="398.5" y1="855.31" x2="400.1" y2="855.31"/><line x1="671.7" y1="855.31" x2="670.1" y2="855.31"/><line x1="398.5" y1="851.13" x2="400.1" y2="851.13"/><line x1="671.7" y1="851.13" x2="670.1" y2="851.13"/><line x1="398.5" y1="847.50" x2="400.1" y2="847.50"/><line x1="671.7" y1="847.50" x2="670.1" y2="847.50"/><line x1="398.5" y1="844.31" x2="400.1" y2="844.31"/><line x1="671.7" y1="844.31" x2="670.1" y2="844.31"/><line x1="398.5" y1="841.45" x2="401.2" y2="841.45"/><line x1="671.7" y1="841.45" x2="669.0" y2="841.45"/><line x1="398.5" y1="822.64" x2="400.1" y2="822.64"/><line x1="671.7" y1="822.64" x2="670.1" y2="822.64"/><line x1="398.5" y1="811.64" x2="400.1" y2="811.64"/><line x1="671.7" y1="811.64" x2="670.1" y2="811.64"/><line x1="398.5" y1="803.84" x2="400.1" y2="803.84"/><line x1="671.7" y1="803.84" x2="670.1" y2="803.84"/><line x1="398.5" y1="797.78" x2="400.1" y2="797.78"/><line x1="671.7" y1="797.78" x2="670.1" y2="797.78"/><line x1="398.5" y1="792.84" x2="400.1" y2="792.84"/><line x1="671.7" y1="792.84" x2="670.1" y2="792.84"/><line x1="398.5" y1="788.65" x2="400.1" y2="788.65"/><line x1="671.7" y1="788.65" x2="670.1" y2="788.65"/><line x1="398.5" y1="785.03" x2="400.1" y2="785.03"/><line x1="671.7" y1="785.03" x2="670.1" y2="785.03"/><line x1="398.5" y1="781.83" x2="400.1" y2="781.83"/><line x1="671.7" y1="781.83" x2="670.1" y2="781.83"/><line x1="398.5" y1="778.98" x2="401.2" y2="778.98"/><line x1="671.7" y1="778.98" x2="669.0" y2="778.98"/><line x1="398.5" y1="760.17" x2="400.1" y2="760.17"/><line x1="671.7" y1="760.17" x2="670.1" y2="760.17"/><line x1="398.5" y1="749.17" x2="400.1" y2="749.17"/><line x1="671.7" y1="749.17" x2="670.1" y2="749.17"/><line x1="398.5" y1="741.36" x2="400.1" y2="741.36"/><line x1="671.7" y1="741.36" x2="670.1" y2="741.36"/><line x1="398.5" y1="735.31" x2="400.1" y2="735.31"/><line x1="671.7" y1="735.31" x2="670.1" y2="735.31"/><line x1="398.5" y1="730.36" x2="400.1" y2="730.36"/><line x1="671.7" y1="730.36" x2="670.1" y2="730.36"/><line x1="398.5" y1="726.18" x2="400.1" y2="726.18"/><line x1="671.7" y1="726.18" x2="670.1" y2="726.18"/><line x1="398.5" y1="722.55" x2="400.1" y2="722.55"/><line x1="671.7" y1="722.55" x2="670.1" y2="722.55"/><line x1="398.5" y1="719.36" x2="400.1" y2="719.36"/><line x1="671.7" y1="719.36" x2="670.1" y2="719.36"/><line x1="398.5" y1="716.50" x2="401.2" y2="716.50"/><line x1="671.7" y1="716.50" x2="669.0" y2="716.50"/></g>
<g font-family="Liberation Sans" font-size="15" fill="#262626"><text transform="translate(379.20,974.40) scale(1,1.05)" text-anchor="end">10</text><text x="380.30" y="967.00" font-size="10">-8</text><text transform="translate(379.20,911.92) scale(1,1.05)" text-anchor="end">10</text><text x="380.30" y="904.52" font-size="10">-7</text><text transform="translate(379.20,849.45) scale(1,1.05)" text-anchor="end">10</text><text x="380.30" y="842.05" font-size="10">-6</text><text transform="translate(379.20,786.98) scale(1,1.05)" text-anchor="end">10</text><text x="380.30" y="779.58" font-size="10">-5</text><text transform="translate(379.20,724.50) scale(1,1.05)" text-anchor="end">10</text><text x="380.30" y="717.10" font-size="10">-4</text><text transform="translate(449.18,987.70) scale(1,1.05)" text-anchor="middle">0.2</text><text transform="translate(504.93,987.70) scale(1,1.05)" text-anchor="middle">0.4</text><text transform="translate(560.69,987.70) scale(1,1.05)" text-anchor="middle">0.6</text><text transform="translate(616.44,987.70) scale(1,1.05)" text-anchor="middle">0.8</text><text transform="translate(672.20,987.70) scale(1,1.05)" text-anchor="middle">1</text></g>
<polyline points="398.50,764.70 418.01,830.40 437.53,872.60 457.04,867.70 475.96,796.10 495.97,797.10 515.69,807.90 535.30,798.50 555.01,792.60 574.93,808.40 594.24,809.60 613.86,780.20 633.77,781.30 653.09,763.60 671.70,755.70" fill="none" stroke="#FF00FF" stroke-width="1.6" stroke-linejoin="round"/>
<polyline points="398.50,723.60 418.01,752.30 437.53,756.60 457.04,754.90 475.96,766.50 495.97,749.90 515.69,769.60 535.30,787.90 555.01,852.80 574.93,800.50 594.24,878.40 613.86,796.00 633.77,806.60 653.09,780.80 671.70,776.80" fill="none" stroke="#F79ACB" stroke-width="1.5" stroke-linejoin="round"/>
<polyline points="398.50,741.70 418.01,815.80 437.53,838.60 457.04,782.30 475.96,772.00 495.97,781.20 515.69,810.10 535.30,811.20 555.01,791.90 574.93,796.00 594.24,801.20 613.86,889.70 633.77,848.00 653.09,867.50 671.70,841.10" fill="none" stroke="#7E2F8E" stroke-width="1.5" stroke-linejoin="round"/>
<g fill="none" stroke="#FF00FF" stroke-width="1.35"><rect x="395.00" y="761.20" width="7" height="7"/><rect x="414.51" y="826.90" width="7" height="7"/><rect x="434.03" y="869.10" width="7" height="7"/><rect x="453.54" y="864.20" width="7" height="7"/><rect x="472.46" y="792.60" width="7" height="7"/><rect x="492.47" y="793.60" width="7" height="7"/><rect x="512.19" y="804.40" width="7" height="7"/><rect x="531.80" y="795.00" width="7" height="7"/><rect x="551.51" y="789.10" width="7" height="7"/><rect x="571.43" y="804.90" width="7" height="7"/><rect x="590.74" y="806.10" width="7" height="7"/><rect x="610.36" y="776.70" width="7" height="7"/><rect x="630.27" y="777.80" width="7" height="7"/><rect x="649.59" y="760.10" width="7" height="7"/><rect x="669.40" y="752.20" width="7" height="7"/></g>
<g fill="none" stroke="#F79ACB" stroke-width="1.35"><rect x="395.00" y="720.10" width="7" height="7"/><rect x="414.51" y="748.80" width="7" height="7"/><rect x="434.03" y="753.10" width="7" height="7"/><rect x="453.54" y="751.40" width="7" height="7"/><rect x="472.46" y="763.00" width="7" height="7"/><rect x="492.47" y="746.40" width="7" height="7"/><rect x="512.19" y="766.10" width="7" height="7"/><rect x="531.80" y="784.40" width="7" height="7"/><rect x="551.51" y="849.30" width="7" height="7"/><rect x="571.43" y="797.00" width="7" height="7"/><rect x="590.74" y="874.90" width="7" height="7"/><rect x="610.36" y="792.50" width="7" height="7"/><rect x="630.27" y="803.10" width="7" height="7"/><rect x="649.59" y="777.30" width="7" height="7"/><rect x="669.40" y="773.30" width="7" height="7"/></g>
<g fill="none" stroke="#7E2F8E" stroke-width="1.35"><rect x="395.00" y="738.20" width="7" height="7"/><rect x="414.51" y="812.30" width="7" height="7"/><rect x="434.03" y="835.10" width="7" height="7"/><rect x="453.54" y="778.80" width="7" height="7"/><rect x="472.46" y="768.50" width="7" height="7"/><rect x="492.47" y="777.70" width="7" height="7"/><rect x="512.19" y="806.60" width="7" height="7"/><rect x="531.80" y="807.70" width="7" height="7"/><rect x="551.51" y="788.40" width="7" height="7"/><rect x="571.43" y="792.50" width="7" height="7"/><rect x="590.74" y="797.70" width="7" height="7"/><rect x="610.36" y="886.20" width="7" height="7"/><rect x="630.27" y="844.50" width="7" height="7"/><rect x="649.59" y="864.00" width="7" height="7"/><rect x="669.40" y="837.60" width="7" height="7"/></g>
<rect x="398.5" y="716.5" width="273.20" height="249.90" fill="none" stroke="#1c1c1c" stroke-width="1.25"/>
<rect x="573.5" y="909.6" width="98.20" height="56.80" fill="#fff" stroke="#1c1c1c" stroke-width="1.25"/>
<line x1="578.2" y1="919.6" x2="624.1" y2="919.6" stroke="#FF00FF" stroke-width="1.75"/>
<rect x="597.8" y="916.1" width="7" height="7" fill="none" stroke="#FF00FF" stroke-width="1.35"/>
<text x="627.00" y="925.78" font-family="Liberation Sans" font-size="13" fill="#262626">Nr=0.1</text>
<line x1="578.2" y1="938.1" x2="624.1" y2="938.1" stroke="#F79ACB" stroke-width="1.5"/>
<rect x="597.8" y="934.6" width="7" height="7" fill="none" stroke="#F79ACB" stroke-width="1.35"/>
<text x="627.00" y="944.28" font-family="Liberation Sans" font-size="13" fill="#262626">Nr=0.3</text>
<line x1="578.2" y1="956.2" x2="624.1" y2="956.2" stroke="#7E2F8E" stroke-width="1.5"/>
<rect x="597.8" y="952.7" width="7" height="7" fill="none" stroke="#7E2F8E" stroke-width="1.35"/>
<text x="627.00" y="962.38" font-family="Liberation Sans" font-size="13" fill="#262626">Nr=0.5</text>
<text x="189.6" y="293.5" font-family="Liberation Serif" font-size="14" fill="#262626" text-anchor="middle">S</text>
<text x="542.8" y="287.6" font-family="Liberation Serif" font-size="14" fill="#262626" text-anchor="middle">S</text>
<text x="186.6" y="655.5" font-family="Liberation Serif" font-size="14" fill="#262626" text-anchor="middle">S</text>
<text x="536" y="650.5" font-family="Liberation Serif" font-size="14" fill="#262626" text-anchor="middle">S</text>
<text x="188.9" y="996.6" font-family="Liberation Serif" font-size="14" fill="#262626" text-anchor="middle">S</text>
<text x="536" y="996.5" font-family="Liberation Serif" font-size="14" fill="#262626" text-anchor="middle">S</text>
<text transform="translate(15.9,131.9) rotate(-90) scale(1.3,1)" font-family="Liberation Serif" font-style="italic" font-size="12" fill="#555" text-anchor="middle">&#x3d5;</text>
<text transform="translate(10.7,489.3) rotate(-90) scale(1.3,1)" font-family="Liberation Serif" font-style="italic" font-size="12" fill="#555" text-anchor="middle">&#x3d5;</text>
<text transform="translate(10.7,838.5) rotate(-90) scale(1.3,1)" font-family="Liberation Serif" font-style="italic" font-size="12" fill="#555" text-anchor="middle">&#x3d5;</text>
<text transform="translate(365.6,135.9) rotate(-90)" font-family="Liberation Sans" font-size="14" fill="#262626" text-anchor="middle">AEs</text>
<text transform="translate(360.8,463.9) rotate(-90)" font-family="Liberation Serif" font-size="12" fill="#262626" text-anchor="middle">AEs</text>
<text transform="translate(360.6,841.3) rotate(-90)" font-family="Liberation Serif" font-size="12" fill="#262626" text-anchor="middle">AEs</text>
<text x="92.3" y="312.9" font-family="Liberation Serif" font-weight="bold" font-size="15.45" fill="#000">a)</text>
<text x="119.6" y="312.9" font-family="Liberation Serif" font-weight="bold" font-size="15.45" fill="#000">Numerical value of S-1</text>
<text x="444.3" y="313.0" font-family="Liberation Serif" font-weight="bold" font-size="15.45" fill="#000">b)</text>
<text x="471.2" y="313.0" font-family="Liberation Serif" font-weight="bold" font-size="15.45" fill="#000">Absolute error of S-1</text>
<text x="89.5" y="673.8" font-family="Liberation Serif" font-weight="bold" font-size="15.45" fill="#000">c)</text>
<text x="117.4" y="673.8" font-family="Liberation Serif" font-weight="bold" font-size="15.45" fill="#000">Numerical value of S-2</text>
<text x="443.3" y="673.7" font-family="Liberation Serif" font-weight="bold" font-size="15.45" fill="#000">d)</text>
<text x="471.2" y="673.7" font-family="Liberation Serif" font-weight="bold" font-size="15.45" fill="#000">Absolute error of S-2</text>
<text x="89.5" y="1023.0" font-family="Liberation Serif" font-weight="bold" font-size="15.45" fill="#000">e)</text>
<text x="117.7" y="1023.0" font-family="Liberation Serif" font-weight="bold" font-size="15.45" fill="#000">Numerical value of S-3</text>
<text x="443.7" y="1022.7" font-family="Liberation Serif" font-weight="bold" font-size="15.45" fill="#000">f)</text>
<text x="471.5" y="1022.7" font-family="Liberation Serif" font-weight="bold" font-size="15.45" fill="#000">Absolute error of S-3</text>
</g></svg>
</div></body></html>
